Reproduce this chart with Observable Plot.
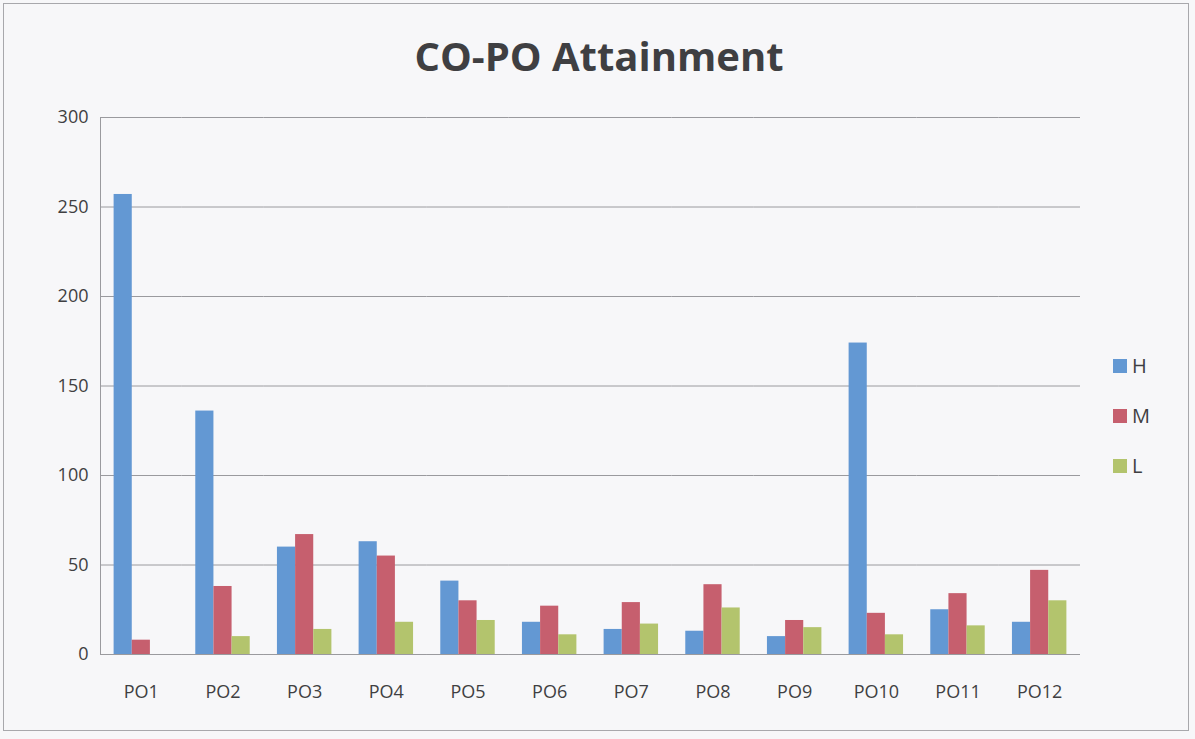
<!DOCTYPE html>
<html>
<head>
<meta charset="utf-8">
<script src="https://cdn.jsdelivr.net/npm/d3@7"></script>
<script src="https://cdn.jsdelivr.net/npm/@observablehq/plot@0.6"></script>
<style>
  html, body { margin: 0; padding: 0; background: #f7f7f9; }
  #page { position: relative; width: 1195px; height: 739px; background: #f7f7f9; overflow: hidden; font-family: "Open Sans", sans-serif; }
  #border { position: absolute; left: 3px; top: 3px; width: 1186px; height: 728px; border: 1px solid #a8a8ac; box-sizing: border-box; }
  #title { position: absolute; left: 0; width: 1198px; top: 28px; text-align: center; font-size: 40px; font-weight: 700; color: #3f3f42; }
  #chart { position: absolute; left: 0; top: 100px; }
  #legend { position: absolute; left: 1113px; top: 352px; }
  .lg-swatches, .lg-swatches-wrap { display: flex !important; flex-direction: column !important; align-items: flex-start !important; gap: 23px; font-family: "Open Sans", sans-serif !important; font-size: 20px !important; color: #3f3f42 !important; }
  .lg-swatch { display: flex !important; align-items: center !important; margin: 0 !important; }
  .lg-swatch svg { margin-right: 5px !important; }
</style>
</head>
<body>
<div id="page">
  <div id="border"></div>
  <div id="title">CO-PO Attainment</div>
  <div id="chart"></div>
  <div id="legend"></div>
</div>
<script>
const categories = ["PO1","PO2","PO3","PO4","PO5","PO6","PO7","PO8","PO9","PO10","PO11","PO12"];
const series = ["H","M","L"];
const H = [257,136,60,63,41,18,14,13,10,174,25,18];
const M = [8,38,67,55,30,27,29,39,19,23,34,47];
const L = [0,10,14,18,19,11,17,26,15,11,16,30];
const yTicks = [0,50,100,150,200,250,300];
const colors = ["#6398d3","#c65f6e","#b3c46d"];

const values = {H, M, L};
const rows = [];
categories.forEach((c, i) => series.forEach(s => rows.push({po: c, series: s, value: values[s][i]})));

const chart = Plot.plot({
  width: 1100,
  height: 614,
  marginLeft: 100,
  marginRight: 20,
  marginTop: 17,
  marginBottom: 60,
  style: {background: "transparent", fontFamily: "Open Sans, sans-serif", color: "#3f3f42"},
  fx: {domain: categories, padding: 0, round: false, label: null},
  x: {domain: series, paddingInner: 0, paddingOuter: 0.75, round: false, axis: null},
  y: {domain: [0, 300], label: null},
  color: {domain: series, range: colors},
  marks: [
    Plot.gridY(yTicks, {stroke: "#9a9a9e", strokeOpacity: 1}),
    Plot.frame({anchor: "left", facetAnchor: "left", stroke: "#9a9a9e"}),
    Plot.barY(rows, {fx: "po", x: "series", y: "value", fill: "series"}),
    Plot.ruleY([0], {stroke: "#9a9a9e"}),
    Plot.axisY(yTicks, {tickSize: 0, tickPadding: 12, fontSize: 18, label: null}),
    Plot.axisFx({anchor: "bottom", tickSize: 0, tickPadding: 31, fontSize: 18, label: null})
  ]
});
document.getElementById("chart").appendChild(chart);

const legend = Plot.legend({color: {domain: series, range: colors}, legend: "swatches", swatchSize: 14, className: "lg"});
document.getElementById("legend").appendChild(legend);
</script>
</body>
</html>
